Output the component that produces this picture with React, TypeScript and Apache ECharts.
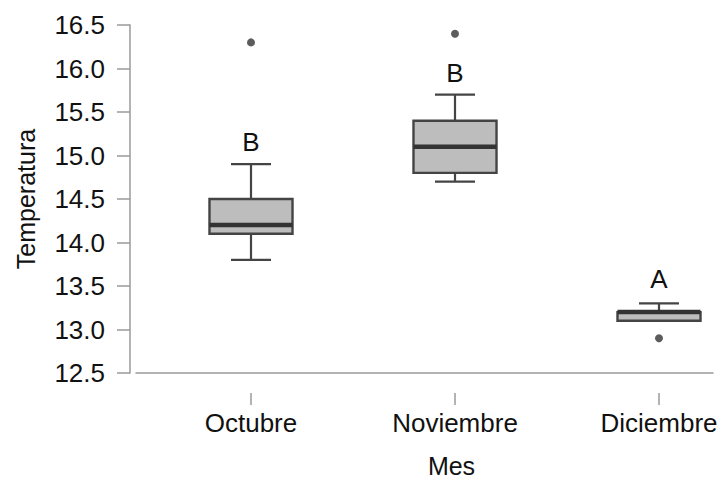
import React, { useEffect, useRef } from "react";
import * as echarts from "echarts";

const categories = ["Octubre", "Noviembre", "Diciembre"];
// [min, Q1, median, Q3, max]
const boxStats = [
  [13.8, 14.1, 14.2, 14.5, 14.9],
  [14.7, 14.8, 15.1, 15.4, 15.7],
  [13.1, 13.1, 13.2, 13.2, 13.3],
];
const outliers = [
  [0, 16.3],
  [1, 16.4],
  [2, 12.9],
];
const letters = ["B", "B", "A"];
const letterY = [15.15, 15.95, 13.58];
const yTicks = { min: 12.5, max: 16.5, interval: 0.5 };

const FONT = "'Liberation Sans', Arial, Helvetica, sans-serif";
const TEXT = "#111111";
const AXIS = "#9a9a9a";

export default function App() {
  const ref = useRef<HTMLDivElement>(null);
  useEffect(() => {
    document.body.style.margin = "0";
    if (!ref.current) return;
    const chart = echarts.init(ref.current, null, { renderer: "svg" });
    const boxData = boxStats.map((s, i) => [i, ...s]);
    const option: any = {
      animation: false,
      backgroundColor: "#ffffff",
      grid: [
        { left: 149, right: -40, top: 25, height: 348, containLabel: false, outerBoundsMode: "none" },
        { left: 136, right: 8, top: 25, height: 348, containLabel: false, outerBoundsMode: "none" },
      ],
      xAxis: [
        {
          type: "category",
          gridIndex: 0,
          data: categories,
          position: "bottom",
          offset: 20,
          axisLine: { show: false },
          axisTick: {
            show: true,
            alignWithLabel: true,
            length: 12,
            lineStyle: { color: AXIS, width: 1.5 },
          },
          axisLabel: {
            margin: 17,
            fontSize: 26,
            color: TEXT,
            fontFamily: FONT,
          },
          splitLine: { show: false },
        },
        {
          type: "value",
          gridIndex: 1,
          min: 0,
          max: 1,
          position: "bottom",
          offset: 14,
          axisLine: { show: true, lineStyle: { color: AXIS, width: 1.5 } },
          axisTick: { show: false },
          axisLabel: { show: false },
          splitLine: { show: false },
          name: "Mes",
          nameLocation: "middle",
          nameGap: 69,
          nameTextStyle: {
            fontSize: 25,
            lineHeight: 20,
            color: TEXT,
            fontFamily: FONT,
            padding: [0, 0, 0, 54],
          },
        },
      ],
      yAxis: [
        {
          type: "value",
          gridIndex: 0,
          min: yTicks.min,
          max: yTicks.max,
          interval: yTicks.interval,
          offset: 19,
          axisLine: { show: true, lineStyle: { color: AXIS, width: 1.5 } },
          axisTick: { show: true, length: 13, lineStyle: { color: AXIS, width: 1.5 } },
          axisLabel: {
            margin: 25,
            fontSize: 26,
            color: TEXT,
            fontFamily: FONT,
            formatter: (v: number) => v.toFixed(1),
          },
          splitLine: { show: false },
          name: "Temperatura",
          nameLocation: "middle",
          nameGap: 92,
          nameTextStyle: { fontSize: 25, color: TEXT, fontFamily: FONT },
        },
        {
          type: "value",
          gridIndex: 1,
          min: 0,
          max: 1,
          show: false,
        },
      ],
      series: [
        {
          type: "custom",
          xAxisIndex: 0,
          yAxisIndex: 0,
          data: boxData,
          encode: { x: 0, y: [1, 2, 3, 4, 5] },
          renderItem: (params: any, api: any) => {
            const i = api.value(0);
            const band = api.size([1, 0])[0];
            const bw = band * 0.407;
            const cw = band * 0.196;
            const pMin = api.coord([i, api.value(1)]);
            const pQ1 = api.coord([i, api.value(2)]);
            const pMed = api.coord([i, api.value(3)]);
            const pQ3 = api.coord([i, api.value(4)]);
            const pMax = api.coord([i, api.value(5)]);
            const cx = pMed[0];
            const lineStyle = { stroke: "#444444", lineWidth: 2.2 };
            return {
              type: "group",
              children: [
                {
                  type: "line",
                  shape: { x1: cx, y1: pQ3[1], x2: cx, y2: pMax[1] },
                  style: lineStyle,
                },
                {
                  type: "line",
                  shape: { x1: cx - cw / 2, y1: pMax[1], x2: cx + cw / 2, y2: pMax[1] },
                  style: lineStyle,
                },
                {
                  type: "line",
                  shape: { x1: cx, y1: pQ1[1], x2: cx, y2: pMin[1] },
                  style: lineStyle,
                },
                {
                  type: "line",
                  shape: { x1: cx - cw / 2, y1: pMin[1], x2: cx + cw / 2, y2: pMin[1] },
                  style: lineStyle,
                },
                {
                  type: "rect",
                  shape: {
                    x: cx - bw / 2,
                    y: pQ3[1],
                    width: bw,
                    height: pQ1[1] - pQ3[1],
                  },
                  style: { fill: "#bdbdbd", stroke: "#444444", lineWidth: 2.4 },
                },
                {
                  type: "line",
                  shape: { x1: cx - bw / 2, y1: pMed[1], x2: cx + bw / 2, y2: pMed[1] },
                  style: { stroke: "#333333", lineWidth: 4.5 },
                },
              ],
            };
          },
        },
        {
          type: "scatter",
          xAxisIndex: 0,
          yAxisIndex: 0,
          data: outliers,
          symbol: "circle",
          symbolSize: 8,
          itemStyle: { color: "#333333" },
        },
        {
          type: "custom",
          xAxisIndex: 0,
          yAxisIndex: 0,
          data: letters.map((l, i) => [i, letterY[i]]),
          encode: { x: 0, y: 1 },
          renderItem: (params: any, api: any) => {
            const p = api.coord([api.value(0), api.value(1)]);
            return {
              type: "text",
              x: p[0],
              y: p[1],
              style: {
                text: letters[params.dataIndex],
                fill: TEXT,
                fontSize: 26,
                fontFamily: FONT,
                align: "center",
                verticalAlign: "middle",
              },
            };
          },
        },
      ],
    };
    chart.setOption(option);
    return () => chart.dispose();
  }, []);
  return <div ref={ref} style={{ width: 721, height: 481 }} />;
}
